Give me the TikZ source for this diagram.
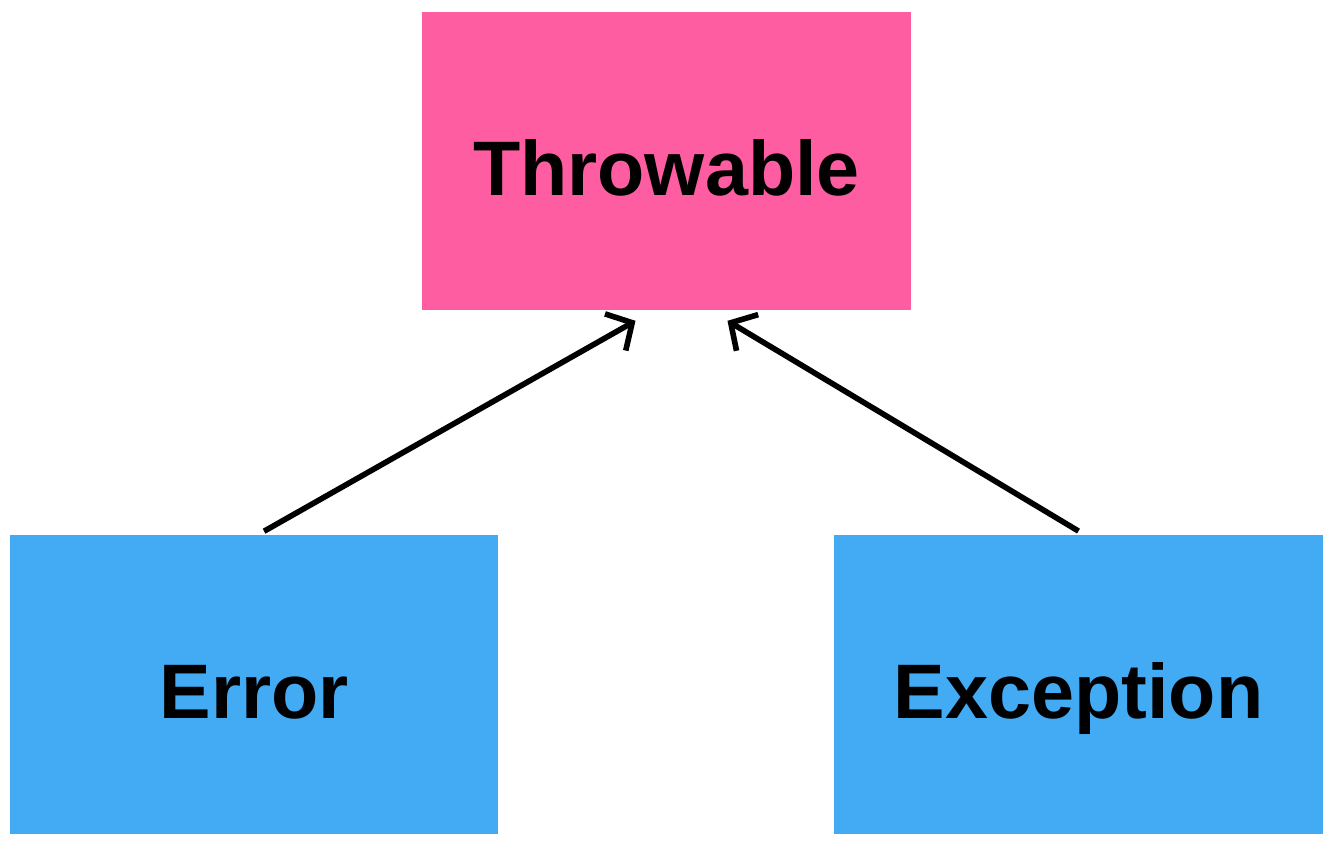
\documentclass[tikz,border=0pt]{standalone}
\usepackage{fontspec}
\setmainfont{Liberation Sans}
\usetikzlibrary{arrows.meta}
\definecolor{throwpink}{HTML}{FF5DA2}
\definecolor{subblue}{HTML}{43AAF4}
\tikzstyle{box} = [rectangle, minimum width=9.77cm, minimum height=5.98cm, inner sep=0pt, text centered, text height=39pt, text depth=0pt, font=\fontsize{44}{50}\selectfont\bfseries]
\tikzstyle{arrow} = [line width=3.2pt, -{Straight Barb[length=11pt, width=24pt, line width=3.2pt]}]

\begin{document}
\begin{tikzpicture}[x=0.02cm, y=-0.02cm]
        \useasboundingbox (0,0) rectangle (1332,844);
        \node [box, fill=throwpink] at (666.5,161) (throwable) {Throwable};
        \node [box, fill=subblue] at (254,684.5) (error) {Error};
        \node [box, fill=subblue] at (1078.5,684.5) (exception) {Exception};
        \draw [arrow, shorten <=0.14cm] ([xshift=0.08cm]error.north) -- ([xshift=-0.62cm, yshift=-0.2cm]throwable.south);
        \draw [arrow, shorten <=0.14cm] ([xshift=0.12cm]exception.north) -- ([xshift=1.22cm, yshift=-0.2cm]throwable.south);
        \end{tikzpicture}
\end{document}
